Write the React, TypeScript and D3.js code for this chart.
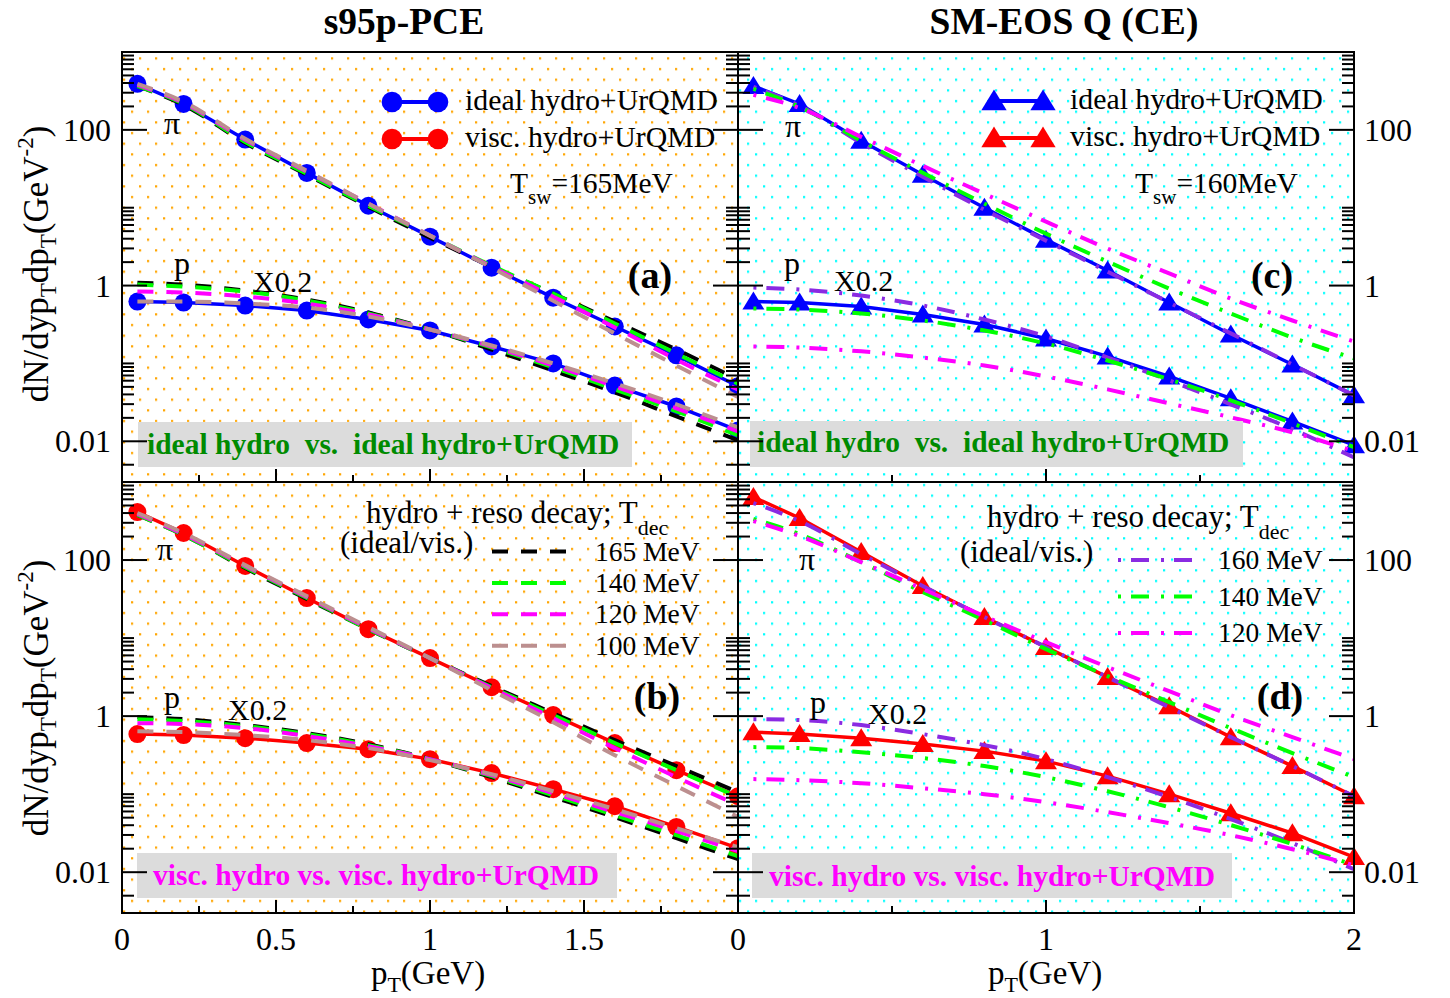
import React from "react";
import * as d3 from "d3";

// ---------------- data ----------------
const PT = [0.05, 0.2, 0.4, 0.6, 0.8, 1.0, 1.2, 1.4, 1.6, 1.8, 2.0];

// (a) s95p-PCE, ideal hydro + UrQMD vs ideal hydro + resonance decay
const aPiUrQMD = [390, 215, 75, 28, 10.6, 4.25, 1.7, 0.7, 0.298, 0.127, 0.051];
const aPUrQMD = [0.623, 0.605, 0.554, 0.478, 0.367, 0.265, 0.165, 0.1, 0.052, 0.028, 0.0138];
const aPi165 = [366, 209, 68, 26.5, 10.3, 4.12, 1.75, 0.79, 0.345, 0.151, 0.062];
const aPi140 = [366, 215, 70, 27.3, 10.6, 4.38, 1.8, 0.79, 0.326, 0.134, 0.055];
const aPi120 = [378, 222, 74.5, 29.0, 11.3, 4.38, 1.75, 0.72, 0.29, 0.112, 0.046];
const aPi100 = [389, 229, 76.7, 29.8, 11.3, 4.38, 1.7, 0.64, 0.243, 0.094, 0.037];
const aP165 = [1.09, 1.03, 0.863, 0.662, 0.451, 0.273, 0.151, 0.081, 0.0425, 0.0209, 0.0103];
const aP140 = [1.03, 0.97, 0.838, 0.642, 0.438, 0.273, 0.16, 0.089, 0.0464, 0.0243, 0.0119];
const aP120 = [0.838, 0.813, 0.723, 0.588, 0.425, 0.273, 0.165, 0.094, 0.0507, 0.0265, 0.0134];
const aP100 = [0.623, 0.623, 0.588, 0.522, 0.401, 0.273, 0.17, 0.1, 0.0554, 0.0298, 0.0151];

// (b) s95p-PCE, viscous
const bPiUrQMD = [412, 222, 84, 32.6, 13.0, 5.54, 2.35, 1.03, 0.451, 0.203, 0.094];
const bPUrQMD = [0.588, 0.571, 0.522, 0.451, 0.377, 0.281, 0.186, 0.116, 0.07, 0.038, 0.0203];
const bPi165 = [378, 209, 79, 31.6, 13.0, 5.54, 2.42, 1.09, 0.492, 0.229, 0.106];
const bPi140 = [378, 209, 81, 32.6, 13.0, 5.54, 2.35, 1.03, 0.451, 0.203, 0.092];
const bPi120 = [389, 215, 84, 33.6, 13.4, 5.54, 2.29, 0.943, 0.389, 0.165, 0.072];
const bPi100 = [401, 222, 86, 34.5, 13.8, 5.54, 2.15, 0.838, 0.316, 0.127, 0.051];
const bP165 = [0.971, 0.915, 0.767, 0.605, 0.438, 0.281, 0.165, 0.092, 0.0507, 0.0273, 0.0147];
const bP140 = [0.915, 0.863, 0.744, 0.588, 0.425, 0.281, 0.17, 0.097, 0.0538, 0.0298, 0.016];
const bP120 = [0.813, 0.79, 0.702, 0.554, 0.412, 0.281, 0.175, 0.103, 0.0588, 0.0336, 0.0186];
const bP100 = [0.642, 0.623, 0.571, 0.492, 0.389, 0.273, 0.18, 0.109, 0.0642, 0.0366, 0.0209];

// (c) SM-EOS Q (CE), ideal
const cPiUrQMD = [366, 215, 72.3, 26.5, 10.0, 3.89, 1.56, 0.605, 0.235, 0.097, 0.0389];
const cPUrQMD = [0.623, 0.605, 0.538, 0.425, 0.316, 0.209, 0.123, 0.068, 0.0356, 0.018, 0.0089];
const cPi160 = [356, 203, 68, 25.0, 9.42, 3.78, 1.51, 0.605, 0.243, 0.097, 0.0389];
const cPi140 = [336, 197, 72.3, 28.1, 11.3, 4.64, 2.03, 0.915, 0.438, 0.215, 0.116];
const cPi120 = [281, 191, 81.3, 34.5, 15.1, 6.62, 2.98, 1.43, 0.681, 0.356, 0.191];
const cP160 = [0.943, 0.889, 0.744, 0.554, 0.367, 0.222, 0.119, 0.0605, 0.0298, 0.0143, 0.0062];
const cP140 = [0.507, 0.492, 0.438, 0.356, 0.265, 0.18, 0.109, 0.0624, 0.0336, 0.017, 0.0084];
const cP120 = [0.165, 0.16, 0.143, 0.119, 0.0942, 0.068, 0.0464, 0.0307, 0.0203, 0.013, 0.0075];

// (d) SM-EOS Q (CE), viscous
const dPiUrQMD = [643, 345, 127, 46.4, 18.6, 7.67, 3.16, 1.34, 0.538, 0.229, 0.094];
const dPUrQMD = [0.623, 0.588, 0.522, 0.438, 0.356, 0.265, 0.17, 0.1, 0.057, 0.0316, 0.0156];
const dPi160 = [538, 316, 119, 46.4, 18.6, 7.67, 3.16, 1.3, 0.538, 0.229, 0.094];
const dPi140 = [336, 215, 94, 38.9, 17.0, 7.22, 3.26, 1.51, 0.702, 0.336, 0.165];
const dPi120 = [316, 203, 94, 42.5, 19.1, 8.89, 4.25, 2.09, 1.03, 0.538, 0.281];
const dP160 = [0.915, 0.889, 0.767, 0.588, 0.425, 0.281, 0.165, 0.092, 0.0478, 0.0236, 0.0109];
const dP140 = [0.401, 0.389, 0.345, 0.29, 0.229, 0.165, 0.109, 0.068, 0.0401, 0.0229, 0.0123];
const dP120 = [0.156, 0.151, 0.138, 0.119, 0.1, 0.079, 0.0588, 0.0425, 0.0298, 0.0197, 0.0123];

const URQMD_LABELS = ["ideal hydro+UrQMD", "visc. hydro+UrQMD"];
const TDEC_LEFT = ["165 MeV", "140 MeV", "120 MeV", "100 MeV"];
const TDEC_RIGHT = ["160 MeV", "140 MeV", "120 MeV"];
const Y_MAJOR = [0.01, 1, 100];
const Y_MAJOR_LABELS = ["0.01", "1", "100"];
const Y_EXTRA_MINOR = [0.005];
const X_LEFT_TICKS = [0, 0.5, 1, 1.5];
const X_LEFT_LABELS = ["0", "0.5", "1", "1.5"];
const X_LEFT_MINOR = [0.25, 0.75, 1.25, 1.75];
const X_RIGHT_TICKS = [0, 1, 2];
const X_RIGHT_LABELS = ["0", "1", "2"];
const X_RIGHT_MINOR = [0.5, 1.5];

// ---------------- layout ----------------
const FONT = "'Liberation Serif', 'Times New Roman', Times, serif";
const XL0 = 122, XM = 738, XR1 = 1354;
const YT0 = 52, YM = 482, YB1 = 913;

const xL = d3.scaleLinear().domain([0, 2]).range([XL0, XM]);
const xR = d3.scaleLinear().domain([0, 2]).range([XM, XR1]);
const yT = d3.scaleLog().domain([0.003, 1000]).range([YM, YT0]);
const yB = d3.scaleLog().domain([0.003, 1000]).range([YB1, YM]);

const C = {
  blue: "#0000ff", red: "#ff0000", black: "#000000", green: "#00ff00",
  magenta: "#ff00ff", tan: "#bc8f8f", violet: "#8a2be2",
  boxGreen: "#008b00", box: "#dcdcdc",
};
const DASH = "16 13";
const DASHDOT = "3 10 18 12";

type Curve = { vals: number[]; color: string; dash: string };
type PanelCfg = {
  key: string; x: any; y: any; pattern: string;
  sym: "circle" | "triangle"; symColor: string;
  symSeries: number[][]; curves: Curve[];
};

const panels: PanelCfg[] = [
  {
    key: "a", x: xL, y: yT, pattern: "dotO", sym: "circle", symColor: C.blue,
    symSeries: [aPiUrQMD, aPUrQMD],
    curves: [
      { vals: aPi165, color: C.black, dash: DASH }, { vals: aPi140, color: C.green, dash: DASH },
      { vals: aPi120, color: C.magenta, dash: DASH }, { vals: aPi100, color: C.tan, dash: DASH },
      { vals: aP165, color: C.black, dash: DASH }, { vals: aP140, color: C.green, dash: DASH },
      { vals: aP120, color: C.magenta, dash: DASH }, { vals: aP100, color: C.tan, dash: DASH },
    ],
  },
  {
    key: "b", x: xL, y: yB, pattern: "dotO", sym: "circle", symColor: C.red,
    symSeries: [bPiUrQMD, bPUrQMD],
    curves: [
      { vals: bPi165, color: C.black, dash: DASH }, { vals: bPi140, color: C.green, dash: DASH },
      { vals: bPi120, color: C.magenta, dash: DASH }, { vals: bPi100, color: C.tan, dash: DASH },
      { vals: bP165, color: C.black, dash: DASH }, { vals: bP140, color: C.green, dash: DASH },
      { vals: bP120, color: C.magenta, dash: DASH }, { vals: bP100, color: C.tan, dash: DASH },
    ],
  },
  {
    key: "c", x: xR, y: yT, pattern: "dotC", sym: "triangle", symColor: C.blue,
    symSeries: [cPiUrQMD, cPUrQMD],
    curves: [
      { vals: cPi160, color: C.violet, dash: DASHDOT }, { vals: cPi140, color: C.green, dash: DASHDOT },
      { vals: cPi120, color: C.magenta, dash: DASHDOT },
      { vals: cP160, color: C.violet, dash: DASHDOT }, { vals: cP140, color: C.green, dash: DASHDOT },
      { vals: cP120, color: C.magenta, dash: DASHDOT },
    ],
  },
  {
    key: "d", x: xR, y: yB, pattern: "dotC", sym: "triangle", symColor: C.red,
    symSeries: [dPiUrQMD, dPUrQMD],
    curves: [
      { vals: dPi160, color: C.violet, dash: DASHDOT }, { vals: dPi140, color: C.green, dash: DASHDOT },
      { vals: dPi120, color: C.magenta, dash: DASHDOT },
      { vals: dP160, color: C.violet, dash: DASHDOT }, { vals: dP140, color: C.green, dash: DASHDOT },
      { vals: dP120, color: C.magenta, dash: DASHDOT },
    ],
  },
];

const triPath = (cx: number, cy: number, s = 1) =>
  `M${cx},${cy - 10 * s}L${cx + 11 * s},${cy + 8 * s}L${cx - 11 * s},${cy + 8 * s}Z`;

function Symbol({ kind, cx, cy, color, s = 1 }: any) {
  if (kind === "circle") return <circle cx={cx} cy={cy} r={9 * s} fill={color} />;
  return <path d={triPath(cx, cy, s)} fill={color} />;
}

function PanelContent({ p }: { p: PanelCfg }) {
  const [xa, xb] = p.x.range();
  const [yb, ya] = p.y.range();
  const symLine = d3.line<number>().x((_, i) => p.x(PT[i])).y((v) => p.y(v));
  const curveLine = d3
    .line<number>()
    .x((_, i) => p.x(PT[i]))
    .y((v) => p.y(v))
    .curve(d3.curveMonotoneX);
  return (
    <g>
      <rect x={xa} y={ya} width={xb - xa} height={yb - ya} fill="#ffffff" />
      <rect x={xa} y={ya} width={xb - xa} height={yb - ya} fill={`url(#${p.pattern})`} />
      {p.symSeries.map((s, i) => (
        <g key={i}>
          <path d={symLine(s) || ""} fill="none" stroke={p.symColor} strokeWidth={3.5} />
          {s.map((v, j) => (
            <Symbol key={j} kind={p.sym} cx={p.x(PT[j])} cy={p.y(v)} color={p.symColor} />
          ))}
        </g>
      ))}
      {p.curves.map((c, i) => (
        <path
          key={i}
          d={curveLine(c.vals) || ""}
          fill="none"
          stroke={c.color}
          strokeWidth={4}
          strokeDasharray={c.dash}
        />
      ))}
    </g>
  );
}

function Axes({ p, side }: { p: PanelCfg; side: "left" | "right" }) {
  const [xa, xb] = p.x.range();
  const [yb, ya] = p.y.range();
  const [lo, hi] = p.y.domain();
  const minor: number[] = [];
  Y_MAJOR.forEach((m) => {
    for (let k = 2; k <= 10; k++) minor.push(k * m);
  });
  Y_EXTRA_MINOR.forEach((m) => minor.push(m));
  const minorIn = minor.filter((v) => v >= lo && v <= hi);
  const isLeft = side === "left";
  const xMaj = isLeft ? X_LEFT_TICKS : X_RIGHT_TICKS;
  const xMin = isLeft ? X_LEFT_MINOR : X_RIGHT_MINOR;
  return (
    <g stroke="#000" strokeWidth={2}>
      {[xa, xb].map((xx, si) => {
        const dir = si === 0 ? 1 : -1;
        return (
          <g key={si}>
            {Y_MAJOR.map((v) => (
              <line key={"M" + v} x1={xx} x2={xx + dir * 25} y1={p.y(v)} y2={p.y(v)} />
            ))}
            {minorIn.map((v, i) => (
              <line key={"m" + i} x1={xx} x2={xx + dir * 12} y1={p.y(v)} y2={p.y(v)} />
            ))}
          </g>
        );
      })}
      {xMaj.map((v) => (
        <line key={"xM" + v} x1={p.x(v)} x2={p.x(v)} y1={yb} y2={yb - 13} />
      ))}
      {xMin.map((v) => (
        <line key={"xm" + v} x1={p.x(v)} x2={p.x(v)} y1={yb} y2={yb - 7} />
      ))}
      <rect x={xa} y={ya} width={xb - xa} height={yb - ya} fill="none" />
    </g>
  );
}

function YTitle({ cy }: { cy: number }) {
  return (
    <text
      transform={`translate(48,${cy}) rotate(-90)`}
      textAnchor="middle"
      fontSize={35}
      fontFamily={FONT}
    >
      dN/dyp
      <tspan fontSize={23} dy={8}>T</tspan>
      <tspan dy={-8}>dp</tspan>
      <tspan fontSize={23} dy={8}>T</tspan>
      <tspan dy={-8}>(GeV</tspan>
      <tspan fontSize={23} dy={-15}>-2</tspan>
      <tspan dy={15}>)</tspan>
    </text>
  );
}

function XTitle({ cx }: { cx: number }) {
  return (
    <text x={cx} y={984} textAnchor="middle" fontSize={33} fontFamily={FONT}>
      p<tspan fontSize={22} dy={8}>T</tspan>
      <tspan dy={-8}>(GeV)</tspan>
    </text>
  );
}

function GrayBox({ x, y, w, h, tx, ty, text, color }: any) {
  return (
    <g>
      <rect x={x} y={y} width={w} height={h} fill={C.box} />
      <text
        x={tx}
        y={ty}
        fontSize={29.5}
        fontWeight="bold"
        fill={color}
        fontFamily={FONT}
        style={{ whiteSpace: "pre" }}
      >
        {text}
      </text>
    </g>
  );
}

function UrQMDLegend({ x1, x2, textX, y0, dy, sym }: any) {
  const colors = [C.blue, C.red];
  return (
    <g>
      {URQMD_LABELS.map((lab, i) => {
        const yy = y0 + i * dy;
        return (
          <g key={lab}>
            <line x1={x1} x2={x2} y1={yy} y2={yy} stroke={colors[i]} strokeWidth={4} />
            <Symbol kind={sym} cx={x1} cy={yy} color={colors[i]} s={1.15} />
            <Symbol kind={sym} cx={x2} cy={yy} color={colors[i]} s={1.15} />
            <text x={textX} y={yy + 8} fontSize={29.8} fontFamily={FONT}>
              {lab}
            </text>
          </g>
        );
      })}
    </g>
  );
}

function TdecLegend({ labels, colors, dash, lx1, lx2, tx, y0, dy, hx, hy, ix, iy }: any) {
  return (
    <g fontFamily={FONT}>
      <text x={hx} y={hy} fontSize={31}>
        hydro + reso decay; T<tspan fontSize={22} dy={12}>dec</tspan>
      </text>
      <text x={ix} y={iy} fontSize={31}>
        (ideal/vis.)
      </text>
      {labels.map((lab: string, i: number) => {
        const yy = y0 + i * dy;
        return (
          <g key={lab}>
            <line x1={lx1} x2={lx2} y1={yy} y2={yy} stroke={colors[i]} strokeWidth={4} strokeDasharray={dash} />
            <text x={tx} y={yy + 9} fontSize={27.5}>
              {lab}
            </text>
          </g>
        );
      })}
    </g>
  );
}

function Tsw({ x, y, val }: any) {
  return (
    <text x={x} y={y} fontSize={29.5} fontFamily={FONT}>
      T<tspan fontSize={21} dy={11}>sw</tspan>
      <tspan dy={-11}>{val}</tspan>
    </text>
  );
}

export default function App() {
  const [pa, pb, pc, pd] = panels;
  return (
    <svg
      width={1450}
      height={998}
      style={{ position: "absolute", left: 0, top: 0, background: "#fff" }}
      fontFamily={FONT}
    >
      <defs>
        <pattern id="dotO" width={16} height={21.33} patternUnits="userSpaceOnUse">
          <rect x={3} y={4} width={2.2} height={2.2} fill="#ffa500" />
          <rect x={11} y={14.67} width={2.2} height={2.2} fill="#ffa500" />
        </pattern>
        <pattern id="dotC" width={16} height={21.33} patternUnits="userSpaceOnUse">
          <rect x={3} y={4} width={2.2} height={2.2} fill="#00ffff" />
          <rect x={11} y={14.67} width={2.2} height={2.2} fill="#00ffff" />
        </pattern>
      </defs>
      <rect x={0} y={0} width={1450} height={998} fill="#fff" />

      {/* panel (a) */}
      <PanelContent p={pa} />
      <GrayBox x={138} y={422} w={494} h={45} tx={147} ty={454}
        text={"ideal hydro  vs.  ideal hydro+UrQMD"} color={C.boxGreen} />
      <UrQMDLegend x1={392} x2={438} textX={465} y0={102} dy={37} sym="circle" />
      <Tsw x={510} y={193} val="=165MeV" />
      <text x={172} y={134} fontSize={32} textAnchor="middle">π</text>
      <text x={182} y={274} fontSize={32} textAnchor="middle">p</text>
      <text x={253} y={292} fontSize={30}>X0.2</text>
      <text x={650} y={288} fontSize={38} fontWeight="bold" textAnchor="middle">(a)</text>

      {/* panel (b) */}
      <PanelContent p={pb} />
      <GrayBox x={137} y={853} w={480} h={45} tx={153} ty={885}
        text={"visc. hydro vs. visc. hydro+UrQMD"} color={C.magenta} />
      <TdecLegend labels={TDEC_LEFT} colors={[C.black, C.green, C.magenta, C.tan]} dash={DASH}
        lx1={492} lx2={566} tx={595} y0={551.5} dy={31.4} hx={366} hy={523} ix={340} iy={553} />
      <text x={165} y={560} fontSize={32} textAnchor="middle">π</text>
      <text x={172} y={708} fontSize={32} textAnchor="middle">p</text>
      <text x={228} y={720} fontSize={30}>X0.2</text>
      <text x={657} y={709} fontSize={38} fontWeight="bold" textAnchor="middle">(b)</text>

      {/* panel (c) */}
      <PanelContent p={pc} />
      <GrayBox x={750} y={421} w={493} h={46} tx={757} ty={452}
        text={"ideal hydro  vs.  ideal hydro+UrQMD"} color={C.boxGreen} />
      <UrQMDLegend x1={994} x2={1043} textX={1070} y0={101} dy={37} sym="triangle" />
      <Tsw x={1135} y={193} val="=160MeV" />
      <text x={793} y={137} fontSize={32} textAnchor="middle">π</text>
      <text x={792} y={274} fontSize={32} textAnchor="middle">p</text>
      <text x={834} y={291} fontSize={30}>X0.2</text>
      <text x={1272} y={288} fontSize={38} fontWeight="bold" textAnchor="middle">(c)</text>

      {/* panel (d) */}
      <PanelContent p={pd} />
      <GrayBox x={752} y={853} w={480} h={45} tx={769} ty={886}
        text={"visc. hydro vs. visc. hydro+UrQMD"} color={C.magenta} />
      <TdecLegend labels={TDEC_RIGHT} colors={[C.violet, C.green, C.magenta]} dash={DASHDOT}
        lx1={1118} lx2={1192} tx={1218} y0={560} dy={36.5} hx={987} hy={527} ix={960} iy={562} />
      <text x={807} y={570} fontSize={32} textAnchor="middle">π</text>
      <text x={818} y={713} fontSize={32} textAnchor="middle">p</text>
      <text x={868} y={724} fontSize={30}>X0.2</text>
      <text x={1280} y={709} fontSize={38} fontWeight="bold" textAnchor="middle">(d)</text>

      {/* axes */}
      <Axes p={pa} side="left" />
      <Axes p={pb} side="left" />
      <Axes p={pc} side="right" />
      <Axes p={pd} side="right" />

      {/* y tick labels */}
      {[yT, yB].map((ys, k) => (
        <g key={k} fontSize={32}>
          {Y_MAJOR.map((v, i) => (
            <text key={"l" + i} x={111} y={ys(v) + 11} textAnchor="end">
              {Y_MAJOR_LABELS[i]}
            </text>
          ))}
          {Y_MAJOR.map((v, i) => (
            <text key={"r" + i} x={1364} y={ys(v) + 11} textAnchor="start">
              {Y_MAJOR_LABELS[i]}
            </text>
          ))}
        </g>
      ))}

      {/* x tick labels */}
      <g fontSize={32} textAnchor="middle">
        {X_LEFT_TICKS.map((v, i) => (
          <text key={"xl" + i} x={xL(v)} y={950}>{X_LEFT_LABELS[i]}</text>
        ))}
        {X_RIGHT_TICKS.map((v, i) => (
          <text key={"xr" + i} x={xR(v)} y={950}>{X_RIGHT_LABELS[i]}</text>
        ))}
      </g>

      <XTitle cx={428} />
      <XTitle cx={1045} />
      <YTitle cy={264} />
      <YTitle cy={698} />

      <text x={404} y={34} fontSize={37.5} fontWeight="bold" textAnchor="middle">s95p-PCE</text>
      <text x={1064} y={34} fontSize={37.5} fontWeight="bold" textAnchor="middle">SM-EOS Q (CE)</text>
    </svg>
  );
}
